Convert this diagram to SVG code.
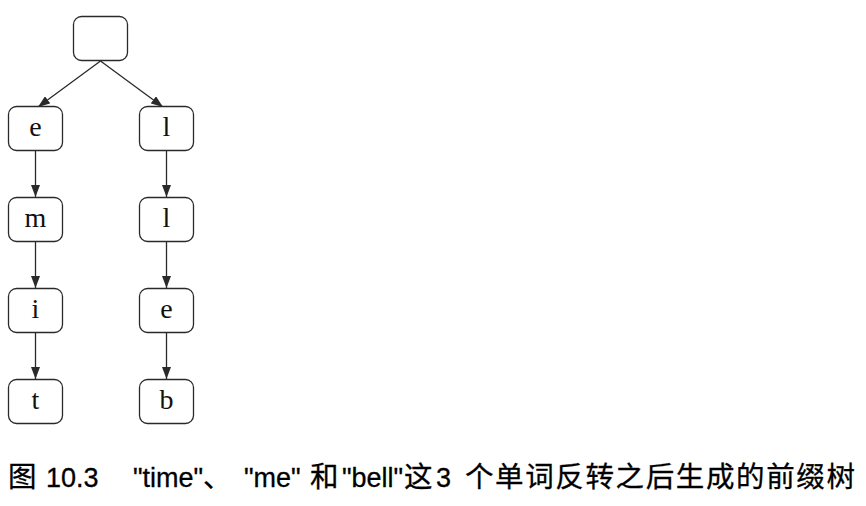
<svg xmlns="http://www.w3.org/2000/svg" width="866" height="506" viewBox="0 0 866 506">
<style>
.box{fill:#fff;stroke:#2a2a2a;stroke-width:1.3}
.lbl{font-family:"Liberation Serif","DejaVu Serif",serif;font-size:28px;text-anchor:middle;fill:#111}
.edge{stroke:#2a2a2a;stroke-width:1.3;fill:none;marker-end:url(#ah)}
.cap{font-family:"Liberation Sans","Noto Sans CJK SC",sans-serif;font-size:27px;fill:#000;stroke:#000;stroke-width:0.3}
.cj{font-size:28.5px}
</style>
<defs>
<marker id="ah" viewBox="0 0 12 9" refX="12" refY="4.5" markerWidth="12" markerHeight="9" markerUnits="userSpaceOnUse" orient="auto">
<path d="M0,0 L12,4.5 L0,9 Z" fill="#2a2a2a"/>
</marker>
</defs>
<rect width="866" height="506" fill="#fff"/>
<g id="connectors">
<line class="edge" x1="100.5" y1="61" x2="38" y2="107"/>
<line class="edge" x1="100.5" y1="61" x2="163" y2="107"/>
<line class="edge" x1="35.5" y1="150" x2="35.5" y2="197"/>
<line class="edge" x1="35.5" y1="241" x2="35.5" y2="288"/>
<line class="edge" x1="35.5" y1="332" x2="35.5" y2="379"/>
<line class="edge" x1="166.5" y1="150" x2="166.5" y2="197"/>
<line class="edge" x1="166.5" y1="241" x2="166.5" y2="288"/>
<line class="edge" x1="166.5" y1="332" x2="166.5" y2="379"/>
</g>
<g id="root"><rect class="box" x="73.5" y="16.5" width="54" height="44" rx="8"/></g>
<g id="n_e"><rect class="box" x="8.5" y="106.5" width="54" height="44" rx="8"/><text class="lbl" x="35.5" y="136">e</text></g>
<g id="n_m"><rect class="box" x="8.5" y="197.5" width="54" height="44" rx="8"/><text class="lbl" x="35.5" y="227">m</text></g>
<g id="n_i"><rect class="box" x="8.5" y="288.5" width="54" height="44" rx="8"/><text class="lbl" x="35.5" y="318">i</text></g>
<g id="n_t"><rect class="box" x="8.5" y="379.5" width="54" height="44" rx="8"/><text class="lbl" x="35.5" y="409">t</text></g>
<g id="n_l1"><rect class="box" x="139.5" y="106.5" width="54" height="44" rx="8"/><text class="lbl" x="166.5" y="136">l</text></g>
<g id="n_l2"><rect class="box" x="139.5" y="197.5" width="54" height="44" rx="8"/><text class="lbl" x="166.5" y="227">l</text></g>
<g id="n_e2"><rect class="box" x="139.5" y="288.5" width="54" height="44" rx="8"/><text class="lbl" x="166.5" y="318">e</text></g>
<g id="n_b"><rect class="box" x="139.5" y="379.5" width="54" height="44" rx="8"/><text class="lbl" x="166.5" y="409">b</text></g>
<g id="caption">
<text class="cap" y="487"><tspan class="cj" x="8">图</tspan><tspan x="46">10.3</tspan><tspan x="133">"time"</tspan><tspan class="cj" x="203">、</tspan><tspan x="244">"me"</tspan><tspan class="cj" x="310">和</tspan><tspan x="342">"bell"</tspan><tspan class="cj" x="404">这</tspan><tspan x="436">3</tspan><tspan class="cj" x="465" textLength="390" lengthAdjust="spacing">个单词反转之后生成的前缀树</tspan></text>
</g>
</svg>
